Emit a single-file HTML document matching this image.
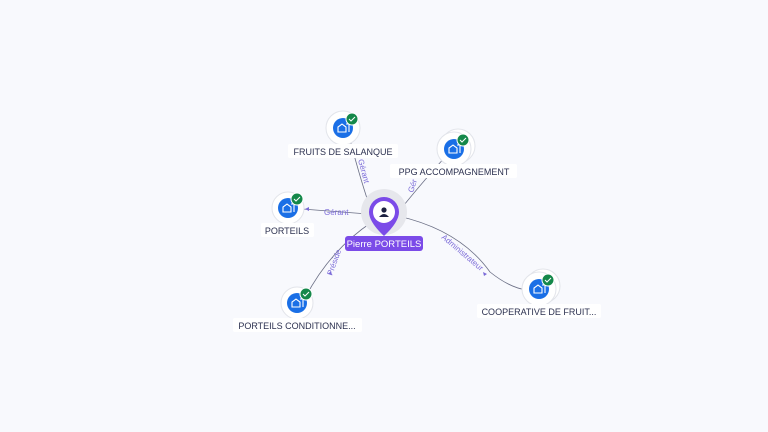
<!DOCTYPE html>
<html><head><meta charset="utf-8"><style>
html,body{margin:0;padding:0;background:#f8f9fd;}
svg{display:block;font-family:"Liberation Sans",sans-serif;}
</style></head><body>
<svg width="768" height="432" viewBox="0 0 768 432" xmlns="http://www.w3.org/2000/svg">
<rect width="768" height="432" fill="#f8f9fd"/>
<g fill="none" stroke="#6b6f85" stroke-width="0.8">
<path d="M371 210 Q362 185 350 140"/>
<path d="M400 210 Q420 185 446 156"/>
<path d="M368 214 L302 209"/>
<path d="M372 222 Q330 250 305 298"/>
<path d="M398 216 Q460 230 490 272 Q510 288 527 290"/>
</g>
<g font-size="8" fill="#7b6bd8">
<text transform="translate(358,160) rotate(75)">Gérant</text>
<text transform="translate(413,193) rotate(-72)">Gér</text>
<text x="324" y="215">Gérant</text>
<text transform="translate(332,276) rotate(-70)">Préside</text>
<text transform="translate(441,238) rotate(40)">Administrateur</text>
</g>
<g fill="#7b6bd8"><path d="M305 209 l4 -2 v4z"/><path d="M331 271 l-3 3 4 1z"/><path d="M487 274 l-4 -2 1 4z"/></g>
<!-- center -->
<circle cx="384" cy="212" r="23" fill="#e6e7ec"/>
<path d="M369 212 a15 15 0 1 1 30 0 q0 10 -15 24 q-15 -14 -15 -24z" fill="#7b4be8"/>
<circle cx="384" cy="212" r="11" fill="#fff"/>
<circle cx="384" cy="210" r="2.6" fill="#1c2040"/>
<path d="M379 217 q5 -6 10 0z" fill="#1c2040"/>
<rect x="345" y="236" width="78" height="15" rx="3" fill="#7b4be8"/>
<text x="384" y="247" font-size="9.5" fill="#fff" text-anchor="middle">Pierre PORTEILS</text>
<!-- nodes -->
<g id="nodes">
<g transform="translate(343,128)"><circle r="17" fill="#fff" stroke="#e2e4ea"/><circle r="10" fill="#1a6fe6"/><path d="M-5 4 v-5 l4 -3 4 3 v5z M3 -4 h3 v8" fill="none" stroke="#fff" stroke-width="1.1"/><circle cx="9" cy="-9" r="6" fill="#14884a" stroke="#fff"/><path d="M6 -9 l2 2 4 -4" stroke="#fff" fill="none" stroke-width="1"/></g>
<g transform="translate(454,149)"><circle cx="4" cy="-3" r="17" fill="#fff" stroke="#e2e4ea"/><circle r="17" fill="#fff" stroke="#e2e4ea"/><circle r="10" fill="#1a6fe6"/><path d="M-5 4 v-5 l4 -3 4 3 v5z M3 -4 h3 v8" fill="none" stroke="#fff" stroke-width="1.1"/><circle cx="9" cy="-9" r="6" fill="#14884a" stroke="#fff"/><path d="M6 -9 l2 2 4 -4" stroke="#fff" fill="none" stroke-width="1"/></g>
<g transform="translate(288,208)"><circle r="16" fill="#fff" stroke="#e2e4ea"/><circle r="10" fill="#1a6fe6"/><path d="M-5 4 v-5 l4 -3 4 3 v5z M3 -4 h3 v8" fill="none" stroke="#fff" stroke-width="1.1"/><circle cx="9" cy="-9" r="6" fill="#14884a" stroke="#fff"/><path d="M6 -9 l2 2 4 -4" stroke="#fff" fill="none" stroke-width="1"/></g>
<g transform="translate(297,303)"><circle r="16" fill="#fff" stroke="#e2e4ea"/><circle r="10" fill="#1a6fe6"/><path d="M-5 4 v-5 l4 -3 4 3 v5z M3 -4 h3 v8" fill="none" stroke="#fff" stroke-width="1.1"/><circle cx="9" cy="-9" r="6" fill="#14884a" stroke="#fff"/><path d="M6 -9 l2 2 4 -4" stroke="#fff" fill="none" stroke-width="1"/></g>
<g transform="translate(539,289)"><circle cx="4" cy="-3" r="17" fill="#fff" stroke="#e2e4ea"/><circle r="17" fill="#fff" stroke="#e2e4ea"/><circle r="10" fill="#1a6fe6"/><path d="M-5 4 v-5 l4 -3 4 3 v5z M3 -4 h3 v8" fill="none" stroke="#fff" stroke-width="1.1"/><circle cx="9" cy="-9" r="6" fill="#14884a" stroke="#fff"/><path d="M6 -9 l2 2 4 -4" stroke="#fff" fill="none" stroke-width="1"/></g>
</g>
<g font-size="9" fill="#2c3150" text-anchor="middle">
<rect x="288" y="144" width="110" height="14" rx="2" fill="#fff"/><text x="343" y="155">FRUITS DE SALANQUE</text>
<rect x="390" y="164" width="127" height="14" rx="2" fill="#fff"/><text x="454" y="175">PPG ACCOMPAGNEMENT</text>
<rect x="261" y="223" width="53" height="14" rx="2" fill="#fff"/><text x="287" y="234">PORTEILS</text>
<rect x="233" y="318" width="129" height="14" rx="2" fill="#fff"/><text x="297" y="329">PORTEILS CONDITIONNE...</text>
<rect x="477" y="304" width="124" height="14" rx="2" fill="#fff"/><text x="539" y="315">COOPERATIVE DE FRUIT...</text>
</g>
</svg>
</body></html>
